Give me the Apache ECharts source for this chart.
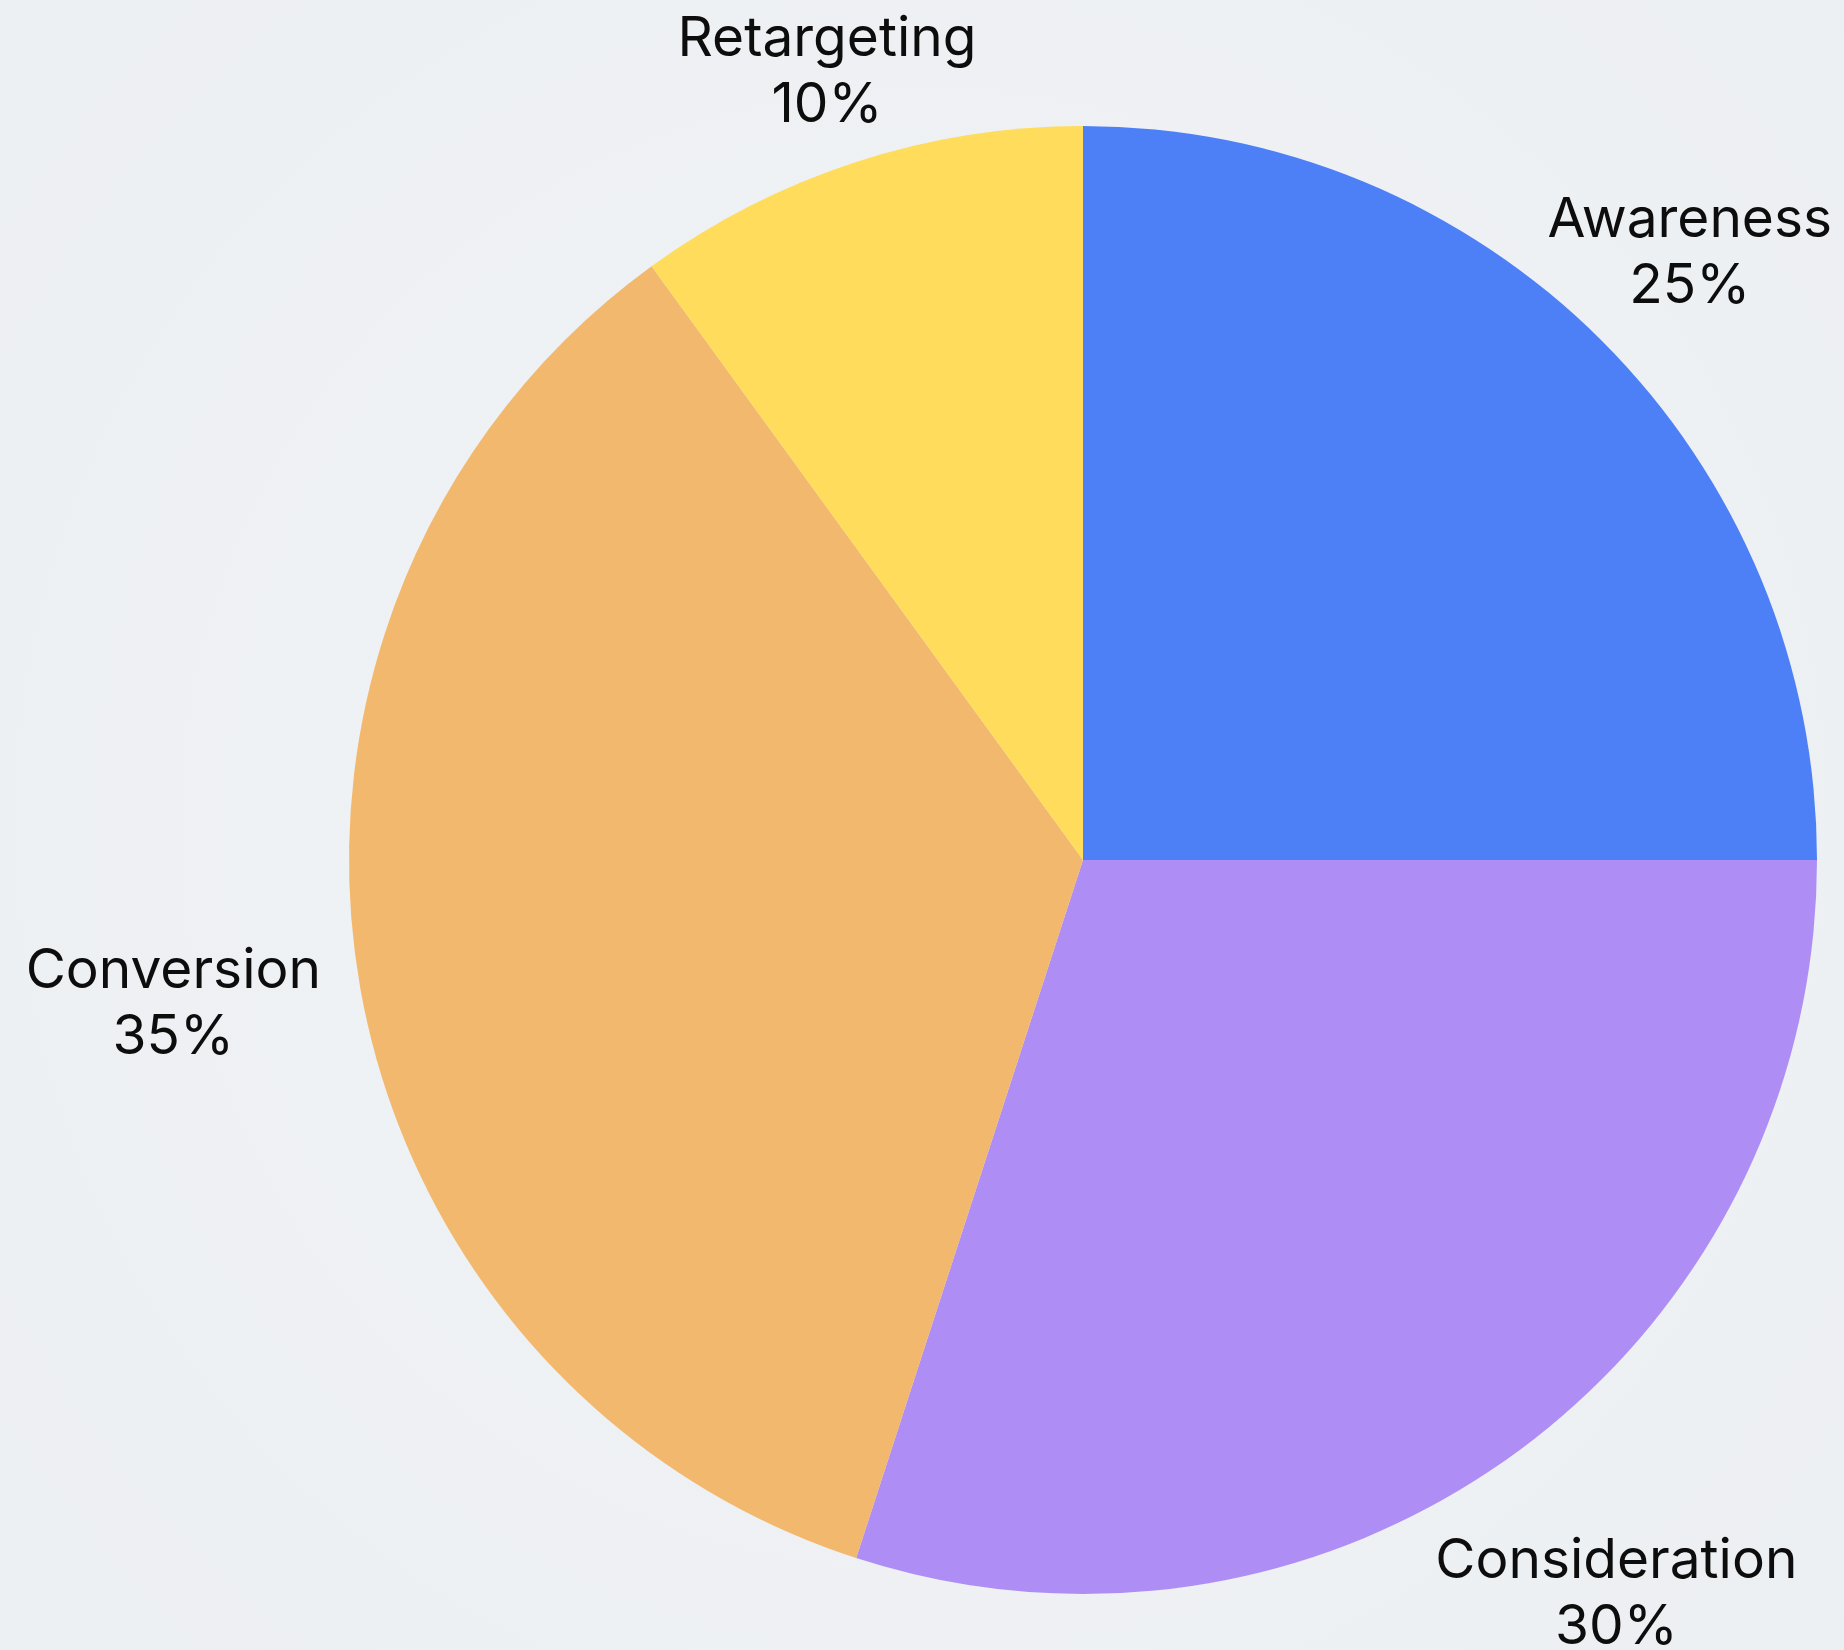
<!DOCTYPE html>
<html>
<head>
<meta charset="utf-8">
<script src="https://cdn.jsdelivr.net/npm/echarts@6/dist/echarts.min.js"></script>
<style>
html,body{margin:0;padding:0;background:#eef1f4;}
#c{width:1844px;height:1650px;}
</style>
</head>
<body>
<div id="c"></div>
<script>
const categories = ['Awareness', 'Consideration', 'Conversion', 'Retargeting'];
const values = [25, 30, 35, 10];
const colors = ['#4d80f7', '#ae8ef4', '#f2b86e', '#ffdc5b'];

const CX = 1083, CY = 860, R = 734;
const total = values.reduce((a, b) => a + b, 0);
const midAngles = [];
let acc = 0;
values.forEach(v => { midAngles.push((acc + v / 2) / total * 2 * Math.PI); acc += v; });

const el = document.getElementById('c');
const chart = echarts.init(el, null, {renderer: 'canvas'});
const W = 1844, MARGIN = 12, MARGIN_T = 6;
chart.setOption({
  backgroundColor: {
    type: 'radial', x: 0.5, y: 0.5, r: 0.8,
    colorStops: [{offset: 0, color: '#f1f3f6'}, {offset: 1, color: '#eceff2'}]
  },
  animation: false,
  series: [{
    type: 'pie',
    center: [CX, CY],
    radius: R,
    startAngle: 90,
    clockwise: true,
    avoidLabelOverlap: false,
    data: categories.map((n, i) => ({name: n, value: values[i], itemStyle: {color: colors[i]}})),
    label: {
      show: true,
      position: 'outside',
      formatter: p => p.name + '\n' + p.value + '%',
      fontFamily: 'Inter',
      fontSize: 55,
      lineHeight: 66,
      color: '#0d0d0d',
      align: 'center'
    },
    labelLine: {show: false},
    labelLayout: function (params) {
      const a = midAngles[params.dataIndex];
      const dx = Math.sin(a), dy = -Math.cos(a);
      const w = params.labelRect.width, h = params.labelRect.height;
      let d = 738 + 1.2 * Math.abs(dx) * w / 2 + 0.78 * Math.abs(dy) * h / 2;
      // keep label inside the canvas (pull in along the radius)
      if (dx > 0) d = Math.min(d, (W - MARGIN - w / 2 - CX) / dx);
      else if (dx < 0) d = Math.min(d, (CX - MARGIN - w / 2) / -dx);
      if (dy < 0) d = Math.min(d, (CY - MARGIN_T - h / 2) / -dy);
      return {x: CX + dx * d, y: CY + dy * d, align: 'center', verticalAlign: 'middle'};
    }
  }]
});
</script>
</body>
</html>
